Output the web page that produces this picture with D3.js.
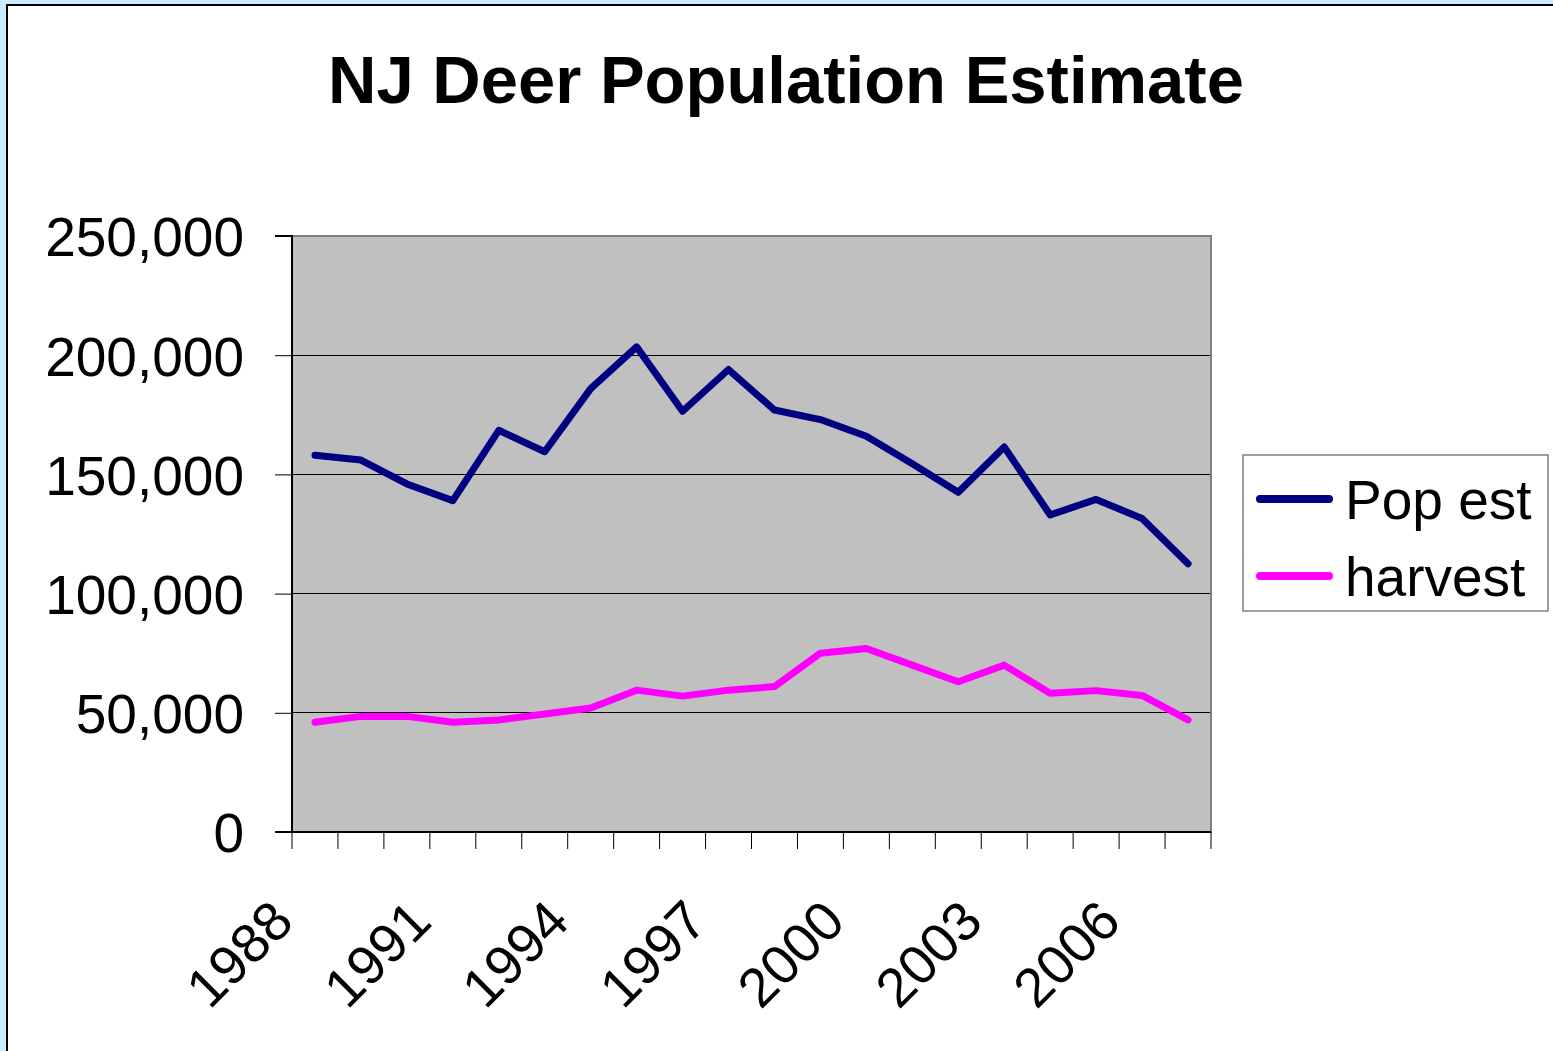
<!DOCTYPE html>
<html>
<head>
<meta charset="utf-8">
<script src="https://cdn.jsdelivr.net/npm/d3@7"></script>
<style>
  html, body { margin: 0; padding: 0; background: #CCEBFF; }
  svg { display: block; }
  text { font-family: "Liberation Sans", Arial, sans-serif; fill: #000; }
</style>
</head>
<body>
<svg id="chart" width="1553" height="1051"></svg>
<script>
const years = [1988,1989,1990,1991,1992,1993,1994,1995,1996,1997,1998,1999,2000,2001,2002,2003,2004,2005,2006,2007];
const popEst = [158000,156000,146000,139000,168500,159500,186000,203500,176500,194000,177000,173000,166000,154500,142500,161500,133000,139500,131500,112500];
const harvest = [46000,48500,48500,46000,47000,49500,52000,59500,57000,59500,61000,75000,77000,70000,63000,70000,58200,59300,57300,47000];
const yTicks = [0,50000,100000,150000,200000,250000];
const xLabelYears = [1988,1991,1994,1997,2000,2003,2006];
const seriesNames = ["Pop est","harvest"];
const seriesColors = ["#000080","#FF00FF"];
const title = "NJ Deer Population Estimate";

const svg = d3.select("#chart");

// outer frame
svg.append("rect").attr("x",7).attr("y",5).attr("width",1600).attr("height",1100)
  .attr("fill","#fff").attr("stroke","#000").attr("stroke-width",2);

const L = 292, R = 1211, T = 236, B = 832;
const x = d3.scaleBand().domain(years).range([L, R]).padding(0);
const y = d3.scaleLinear().domain([0, 250000]).range([B, T]);

// title
svg.append("text").attr("x", 786).attr("y", 103).attr("text-anchor","middle")
  .attr("font-size", 67).attr("font-weight","bold").text(title);

// plot area
svg.append("rect").attr("x",L).attr("y",T).attr("width",R-L).attr("height",B-T)
  .attr("fill","#C0C0C0");

// gridlines
svg.append("g").selectAll("line").data(yTicks.filter(d => d > 0)).join("line")
  .attr("x1",L).attr("x2",R).attr("y1",d=>y(d)).attr("y2",d=>y(d))
  .attr("stroke","#000").attr("stroke-width",1).attr("shape-rendering","crispEdges");

// plot border (gray)
svg.append("rect").attr("x",L).attr("y",T).attr("width",R-L).attr("height",B-T)
  .attr("fill","none").attr("stroke","#808080").attr("stroke-width",2);

// y axis
const yAxis = d3.axisLeft(y).tickValues(yTicks).tickFormat(d3.format(",")).tickSize(17).tickPadding(31);
const gy = svg.append("g").attr("transform",`translate(${L},0)`).call(yAxis);
gy.select(".domain").attr("stroke","#000").attr("stroke-width",2).attr("d",`M-17,${T}H0V${B}H-17`);
gy.selectAll(".tick line").attr("stroke","#000").attr("stroke-width",1);
gy.selectAll(".tick text").attr("font-size",55).attr("dy","0.36em")
  .attr("font-family",'"Liberation Sans", Arial, sans-serif').attr("fill","#000");

// x axis line
svg.append("line").attr("x1",L-17).attr("x2",R).attr("y1",B).attr("y2",B)
  .attr("stroke","#000").attr("stroke-width",2);
// x ticks at category boundaries
const boundaries = years.map(d => x(d)).concat([x(years[years.length-1]) + x.bandwidth()]);
svg.append("g").selectAll("line").data(boundaries).join("line")
  .attr("x1",d=>d).attr("x2",d=>d).attr("y1",B).attr("y2",B+17)
  .attr("stroke","#000").attr("stroke-width",1);

// x labels rotated
svg.append("g").selectAll("text").data(xLabelYears).join("text")
  .attr("transform", d => `translate(${x(d) + x.bandwidth()/2 - 33},910) rotate(-45)`)
  .attr("text-anchor","end").attr("dy","0.36em").attr("font-size",55)
  .text(d => d);

// lines
const line = d3.line().x((d,i) => x(years[i]) + x.bandwidth()/2).y(d => y(d));
[popEst, harvest].forEach((s, k) => {
  svg.append("path").datum(s).attr("d", line).attr("fill","none")
    .attr("stroke", seriesColors[k]).attr("stroke-width",7)
    .attr("stroke-linejoin","round").attr("stroke-linecap","round");
});

// legend
const lg = svg.append("g");
lg.append("rect").attr("x",1243).attr("y",455).attr("width",305).attr("height",156)
  .attr("fill","#fff").attr("stroke","#808080").attr("stroke-width",1.5);
seriesNames.forEach((n, k) => {
  const cy = 499 + k*77;
  lg.append("line").attr("x1",1260).attr("x2",1329).attr("y1",cy).attr("y2",cy)
    .attr("stroke",seriesColors[k]).attr("stroke-width",8).attr("stroke-linecap","round");
  lg.append("text").attr("x",1345).attr("y",cy).attr("dy","0.36em").attr("font-size",55).text(n);
});
</script>
</body>
</html>
